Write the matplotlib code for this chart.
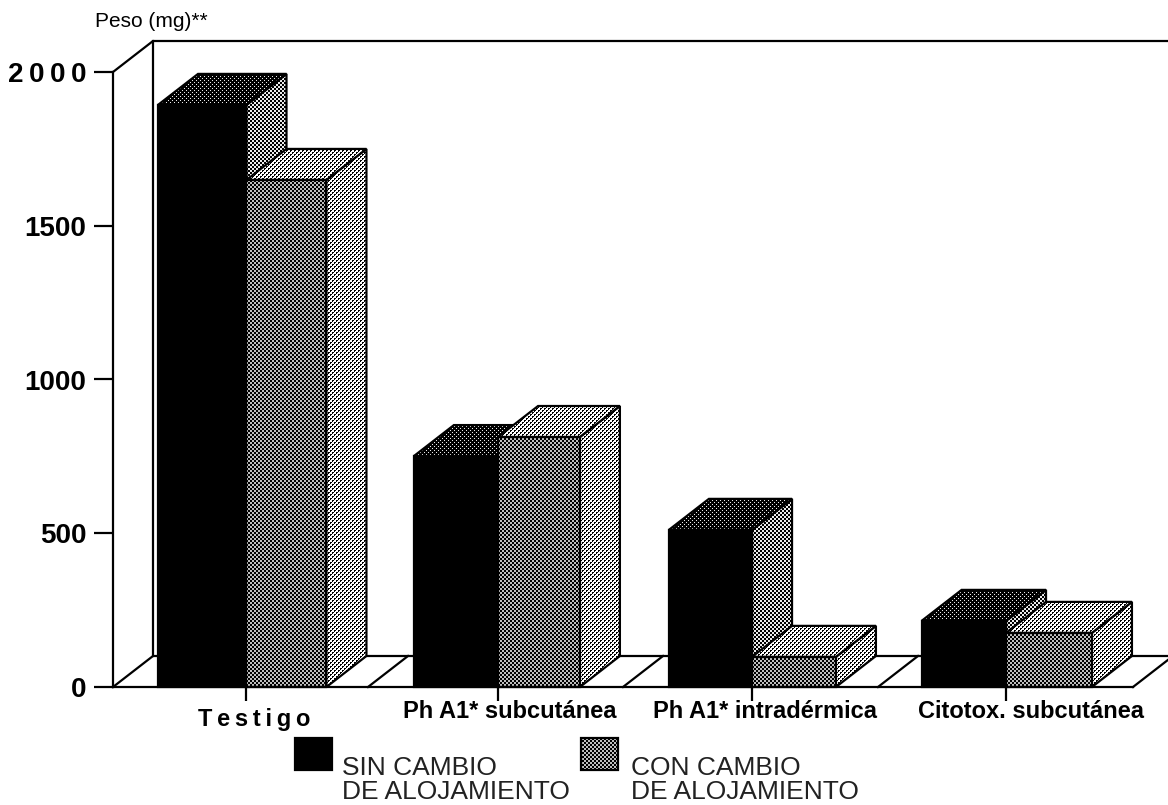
import numpy as np
import matplotlib
matplotlib.use("Agg")
import matplotlib.pyplot as plt
from matplotlib.patches import Polygon
from matplotlib.transforms import IdentityTransform

categories = ["T\u2009e\u2009s\u2009t\u2009i\u2009g\u2009o", "Ph A1* subcutánea", "Ph A1* intradérmica", "Citotox. subcutánea"]
sin_cambio = [1893, 751, 511, 215]
con_cambio = [1649, 813, 98, 176]
y_ticks = [0, 500, 1000, 1500, 2000]
y_labels = ["0", "500", "1000", "1500", "2\u20090\u20090\u20090"]
series_labels = ["SIN CAMBIO\nDE ALOJAMIENTO", "CON CAMBIO\nDE ALOJAMIENTO"]
y_title = "Peso (mg)**"

W, H = 1168, 805
plt.rcParams["font.family"] = ["Liberation Sans", "DejaVu Sans"]
fig = plt.figure(figsize=(W / 100, H / 100), dpi=100)
L, R, T, B = 113, 1133, 72, 687
ax = fig.add_axes([L / W, (H - B) / H, (R - L) / W, (B - T) / H])
ax.set_xlim(-0.5, 3.5)
ax.set_ylim(0, 2000)
ax.set_autoscale_on(False)
DX = 40 / 255
DY = 31 / ((B - T) / 2000)
LW = 1.6
edge_left = [-0.3235, 0.680, 1.680, 2.671]
edge_mid = [0.0235, 1.010, 2.006, 3.002]
edge_right = [0.337, 1.331, 2.335, 3.339]

inv = ax.transData.inverted()


def tile_image(tile, lo=0, hi=255):
    t = np.array(tile)
    rep = (H // t.shape[0] + 1, W // t.shape[1] + 1)
    a = np.tile(t, rep)[:H, :W]
    return lo + (hi - lo) * a


CHECK = [[1, 1, 0, 0], [1, 1, 0, 0], [0, 0, 1, 1], [0, 0, 1, 1]]
TOP_DARK = [[1, 0, 0, 0], [0, 0, 0, 0], [0, 0, 1, 0], [0, 0, 0, 0]]
LIGHT = [[0, 0, 1, 1], [0, 1, 1, 1], [1, 1, 0, 0], [1, 1, 0, 1]]


def textured(poly, tile, z, lo=0, hi=255):
    im = ax.imshow(tile_image(tile, lo, hi), cmap="gray", vmin=0, vmax=255,
                   extent=(0, W, 0, H), origin="upper", aspect="auto",
                   interpolation="nearest", zorder=z, transform=IdentityTransform())
    im.set_clip_box(fig.bbox)
    im.set_clip_path(Polygon(poly, closed=True, transform=ax.transData))


def face(poly, tile, z, solid=None, lo=0, hi=255):
    if solid is not None:
        ax.add_patch(Polygon(poly, closed=True, fc=solid, ec="none", zorder=z, clip_on=False))
    else:
        textured(poly, tile, z, lo, hi)
    ax.add_patch(Polygon(poly, closed=True, fc="none", ec="black", lw=LW, zorder=z + 0.01,
                         clip_on=False, joinstyle="miter"))


def bar3d(xa, xb, v, z, front, top, side):
    f = [(xa, 0), (xb, 0), (xb, v), (xa, v)]
    t = [(xa, v), (xb, v), (xb + DX, v + DY), (xa + DX, v + DY)]
    s = [(xb, 0), (xb + DX, DY), (xb + DX, v + DY), (xb, v)]
    face(s, side[0], z, **side[1])
    face(t, top[0], z + 0.02, **top[1])
    face(f, front[0], z + 0.04, **front[1])


def line(xs, ys, z=1.0, lw=LW):
    ax.plot(xs, ys, color="black", lw=lw, zorder=z, clip_on=False, solid_capstyle="projecting")


# back wall and floor
xl, xr = ax.get_xlim()
line([xl, xl + DX, xr + DX], [2000, 2000 + DY, 2000 + DY])
line([xl + DX, xl + DX], [DY, 2000 + DY])
line([xl, xl + DX, xr + DX], [0, DY, DY])
line([xr, xr + DX], [0, DY])
for b in [0.5, 1.5, 2.5]:
    line([b, b + DX], [0, DY])

z = 2
for xa, xm, xb, a, c in zip(edge_left, edge_mid, edge_right, sin_cambio, con_cambio):
    bar3d(xa, xm, a, z,
          (None, dict(solid="black")), (TOP_DARK, dict(hi=235)), (CHECK, dict(hi=235)))
    bar3d(xm, xb, c, z + 1,
          (CHECK, dict(lo=0, hi=190)), (LIGHT, dict(lo=0, hi=255)), (LIGHT, dict(lo=0, hi=255)))
    z += 2

# axes
for s in ["top", "right"]:
    ax.spines[s].set_visible(False)
for s in ["left", "bottom"]:
    ax.spines[s].set_linewidth(LW)
    ax.spines[s].set_zorder(50)
ax.patch.set_alpha(0)
ax.set_yticks(y_ticks, y_labels, fontsize=20, fontweight="bold")
ax.tick_params(axis="y", length=13.5, width=LW, pad=5.5)
ax.set_xticks(edge_mid, [""] * 4)
ax.tick_params(axis="x", length=10, width=LW)

label_x = [0.053, 1.057, 2.057, 3.10]
label_y = [-106, -79, -79, -79]
for lx, ly, c in zip(label_x, label_y, categories):
    ax.text(lx, ly, c, ha="center", va="center", fontsize=17, fontweight="bold", clip_on=False)

ax.text(-0.5706, 2000 + 165, y_title, ha="left", va="center", fontsize=15, clip_on=False)


# legend
def px(xp, yp):
    return inv.transform((xp, H - yp))


def square(xa, xb, ya, yb, tile=None, **kw):
    (dxa, dya), (dxb, dyb) = px(xa, ya), px(xb, yb)
    poly = [(dxa, dya), (dxb, dya), (dxb, dyb), (dxa, dyb)]
    if tile is None:
        face(poly, None, 60, solid="black")
    else:
        face(poly, tile, 60, **kw)


square(295, 332, 738, 770)
square(581, 618, 738, 770, CHECK, lo=0, hi=190)
for xp, s in zip([342, 631], series_labels):
    tx, ty = px(xp, 780)
    ax.text(tx, ty, s, ha="left", va="center", fontsize=19, linespacing=0.96, clip_on=False, color="#222222")

ax.set_xlim(-0.5, 3.5)
ax.set_ylim(0, 2000)
fig.savefig("out.png", dpi=100)
